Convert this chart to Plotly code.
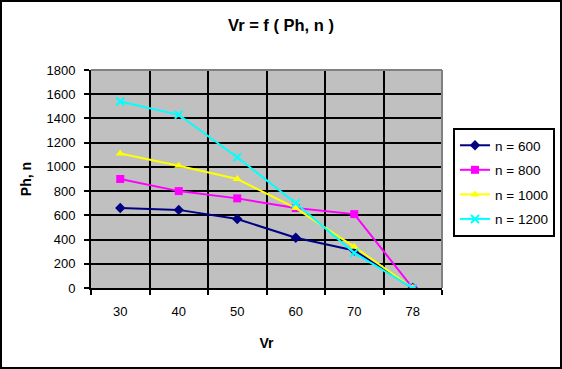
import plotly.graph_objects as go

categories = ["30", "40", "50", "60", "70", "78"]
n600 = [660, 645, 570, 415, 310, 0]
n800 = [900, 800, 740, 660, 610, 0]
n1000 = [1110, 1010, 900, 660, 340, 0]
n1200 = [1540, 1430, 1080, 700, 290, 0]
names = ["n = 600", "n = 800", "n = 1000", "n = 1200"]
colors = ["#000080", "#FF00FF", "#FFFF00", "#00FFFF"]
symbols = ["diamond", "square", "triangle-up", "x-thin"]

W, H = 562, 369
L, R, T, B = 91, 442, 70, 288

fig = go.Figure()
for vals, name, c, s in zip([n600, n800, n1000, n1200], names, colors, symbols):
    marker = dict(symbol=s, size=8, color=c)
    if s == "x-thin":
        marker = dict(symbol=s, size=8, color=c, line=dict(color=c, width=2))
    fig.add_trace(go.Scatter(x=categories, y=vals, name=name, legendgroup=name,
                             mode="lines+markers",
                             line=dict(color=c, width=2), marker=marker))

pw, ph = R - L, B - T
fig.add_shape(type="rect", xref="paper", yref="paper",
              x0=(1 - L) / pw, x1=(W - 1 - L) / pw,
              y0=(B - (H - 1)) / ph, y1=(B - 1) / ph,
              line=dict(color="black", width=2), layer="below")

fig.update_layout(
    width=W, height=H,
    margin=dict(l=L, r=W - R, t=T, b=H - B, autoexpand=False),
    paper_bgcolor="white", plot_bgcolor="#C0C0C0",
    font=dict(family="Liberation Sans, Arial, sans-serif", size=13, color="black"),
    title=dict(text="<b>Vr = f ( Ph, n )</b>", x=281 / W, xanchor="center",
               y=1 - 25 / H, yanchor="middle", font=dict(size=16.5), automargin=False),
    showlegend=True,
    legend=dict(x=(453 - L) / pw, y=(B - 128) / ph, xanchor="left", yanchor="top",
                bordercolor="black", borderwidth=2, bgcolor="white",
                font=dict(size=13.5), itemwidth=30, tracegroupgap=4,
                traceorder="grouped"),
    xaxis=dict(type="category", categoryorder="array", categoryarray=categories,
               tickson="boundaries", showgrid=True, gridcolor="black", gridwidth=1.5,
               ticks="outside", ticklen=5, tickcolor="black", tickwidth=2,
               showline=True, linecolor="black", linewidth=2, mirror=False,
               title=dict(text="<b>Vr</b>", font=dict(size=14), standoff=21),
               tickfont=dict(size=13), ticklabelstandoff=10,
               range=[-0.5, 5.5], automargin=False),
    yaxis=dict(range=[0, 1800], dtick=200, showgrid=True, gridcolor="black", gridwidth=1.5,
               ticks="outside", ticklen=5, tickcolor="black", tickwidth=2,
               showline=True, linecolor="black", linewidth=2, zeroline=False,
               title=dict(text="<b>Ph, n</b>", font=dict(size=14), standoff=12),
               tickfont=dict(size=13), ticklabelstandoff=6, automargin=False),
)
fig.add_shape(type="line", xref="paper", yref="paper", x0=0, x1=1, y0=1, y1=1,
              line=dict(color="#808080", width=2))
fig.add_shape(type="line", xref="paper", yref="paper", x0=1, x1=1, y0=0, y1=1,
              line=dict(color="#808080", width=2))

fig.write_html("out.html", config={"displayModeBar": False},
               post_script="document.body.style.margin='0';document.body.style.overflow='hidden';")
